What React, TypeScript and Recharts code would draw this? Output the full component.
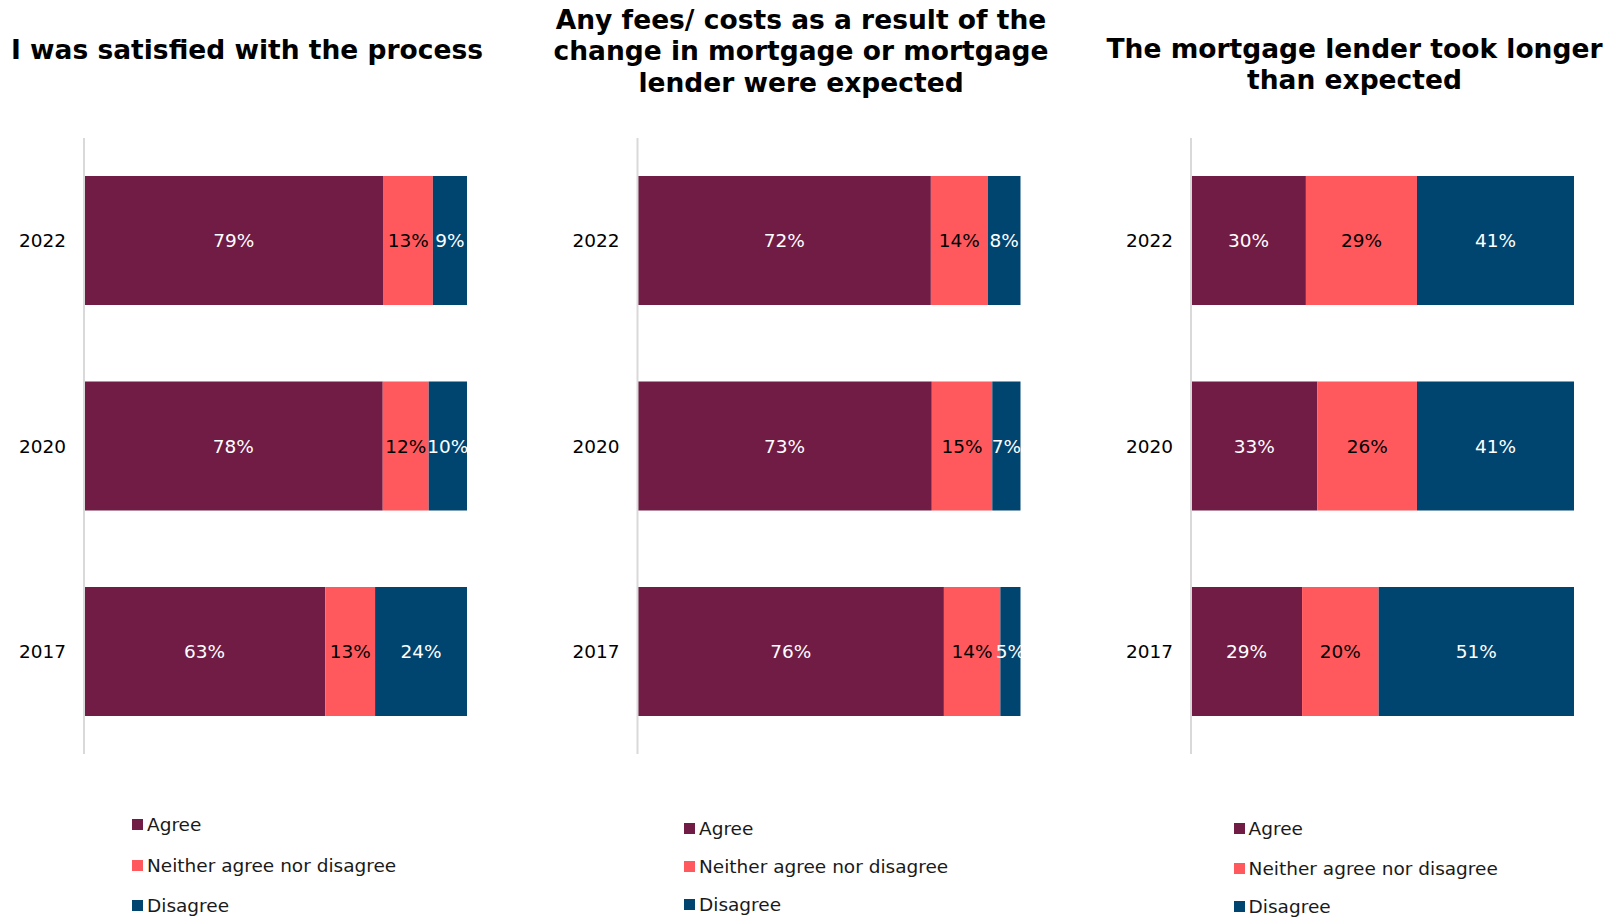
import React from 'react';
import { BarChart, Bar, XAxis, YAxis, LabelList } from 'recharts';

const categories = ['2022', '2020', '2017'];

const satisfiedAgree = [79, 78, 63];
const satisfiedNeither = [13, 12, 13];
const satisfiedDisagree = [9, 10, 24];

const feesAgree = [72, 73, 76];
const feesNeither = [14, 15, 14];
const feesDisagree = [8, 7, 5];

const longerAgree = [30, 33, 29];
const longerNeither = [29, 26, 20];
const longerDisagree = [41, 41, 51];

const seriesNames = ['Agree', 'Neither agree nor disagree', 'Disagree'];
const seriesColors = ['#701C45', '#FF595E', '#004570'];
const labelColors = ['#FFFFFF', '#000000', '#FFFFFF'];

const titles = [
  ['I was satisfied with the process'],
  ['Any fees/ costs as a result of the', 'change in mortgage or mortgage', 'lender were expected'],
  ['The mortgage lender took longer', 'than expected'],
];

const FONT = "'DejaVu Sans', Verdana, sans-serif";

function build(a: number[], n: number[], d: number[]) {
  return categories.map((c, i) => ({ year: c, agree: a[i], neither: n[i], disagree: d[i] }));
}

const panels = [
  {
    data: build(satisfiedAgree, satisfiedNeither, satisfiedDisagree),
    left: 0, axisX: 84, titleX: 247, titleY: 49.6, legendX: 132, legendY: [824.5, 865, 905],
  },
  {
    data: build(feesAgree, feesNeither, feesDisagree),
    left: 540, axisX: 637.5, titleX: 801, titleY: 19.6, legendX: 684, legendY: [828.6, 866.8, 904],
  },
  {
    data: build(longerAgree, longerNeither, longerDisagree),
    left: 1080, axisX: 1191, titleX: 1354.5, titleY: 48.6, legendX: 1233.6, legendY: [828.6, 868, 906],
  },
];

const keys = ['agree', 'neither', 'disagree'];
const PLOT_TOP = 137.8;
const PLOT_H = 616.6;
const BAR_W = 383;
const RIGHT_PAD = 30;
const LINE_H = 31.5;

export default function App() {
  return (
    <div style={{ position: 'absolute', left: 0, top: 0, width: 1620, height: 917, background: '#fff', fontFamily: FONT, overflow: 'hidden' }}>
      {panels.map((p, pi) => {
        const yw = p.axisX - p.left;
        return (
          <React.Fragment key={pi}>
            <div
              style={{
                position: 'absolute',
                left: p.titleX - 320,
                width: 640,
                top: p.titleY - LINE_H / 2,
                textAlign: 'center',
                fontWeight: 'bold',
                fontSize: 26.5,
                lineHeight: `${LINE_H}px`,
                color: '#000',
                whiteSpace: 'nowrap',
              }}
            >
              {titles[pi].map((t, ti) => (
                <div key={ti}>{t}</div>
              ))}
            </div>
            <div style={{ position: 'absolute', left: p.left, top: PLOT_TOP }}>
              <BarChart
                width={yw + BAR_W + RIGHT_PAD}
                height={PLOT_H}
                data={p.data}
                layout="vertical"
                stackOffset="expand"
                margin={{ top: 0, right: RIGHT_PAD, bottom: 0, left: 0 }}
                barSize={129}
                style={{ overflow: 'visible' }}
              >
                <XAxis type="number" hide domain={[0, 1]} />
                <YAxis
                  type="category"
                  dataKey="year"
                  width={yw}
                  axisLine={{ stroke: '#D9D9D9', strokeWidth: 2 }}
                  tickLine={false}
                  tickSize={0}
                  tickMargin={18}
                  tick={{ fill: '#000', fontSize: 18.5, fontFamily: FONT }}
                />
                {keys.map((k, ki) => (
                  <Bar key={k} dataKey={k} stackId="s" fill={seriesColors[ki]} isAnimationActive={false}>
                    <LabelList
                      dataKey={k}
                      position="center"
                      formatter={(v: any) => `${v}%`}
                      style={{ fill: labelColors[ki], fontSize: 18.5, fontFamily: FONT }}
                    />
                  </Bar>
                ))}
              </BarChart>
            </div>
            {seriesNames.map((s, si) => (
              <div
                key={s}
                style={{
                  position: 'absolute',
                  left: p.legendX,
                  top: p.legendY[si] - 12,
                  height: 24,
                  display: 'flex',
                  alignItems: 'center',
                  fontSize: 18.5,
                  color: '#1a1a1a',
                  whiteSpace: 'nowrap',
                }}
              >
                <span style={{ display: 'inline-block', width: 11, height: 11, background: seriesColors[si], marginRight: 4 }} />
                <span>{s}</span>
              </div>
            ))}
          </React.Fragment>
        );
      })}
    </div>
  );
}
